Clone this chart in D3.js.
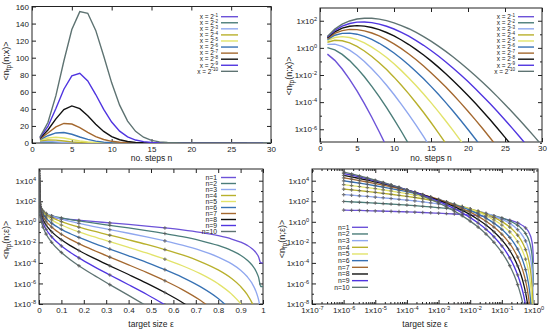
<!DOCTYPE html>
<html>
<head>
<meta charset="utf-8">
<script src="https://cdn.jsdelivr.net/npm/d3@7"></script>
<style>
  body { margin: 0; background: #fff; }
  svg { display: block; font-family: "Liberation Sans", Arial, Helvetica, sans-serif; }
</style>
</head>
<body>
<svg id="chart" width="550" height="330"></svg>
<script>
// ---- data ----
const nSteps = [1, 2, 3, 4, 5, 6, 7, 8, 9, 10, 11, 12, 13, 14, 15, 16, 17, 18, 19, 20, 21, 22, 23, 24, 25, 26, 27, 28, 29, 30];
const xExponents = [1, 2, 3, 4, 5, 6, 7, 8, 9, 10];
const nLabels = [1, 2, 3, 4, 5, 6, 7, 8, 9, 10];

// <n_fp(n;x)> for x = 2^-1 ... 2^-10, n = 1, 2, ...
const nfpX1 = [0.347, 0.120, 0.0278, 0.00481, 6.67e-4, 7.70e-5, 7.63e-6, 6.61e-7, 5.09e-8, 3.5e-9];
const nfpX2 = [1.04, 0.721, 0.333, 0.115, 0.0320, 0.00739, 0.00146, 2.54e-4, 3.91e-5, 5.42e-6, 6.83e-7, 7.89e-8, 8.4e-9];
const nfpX3 = [1.82, 1.89, 1.31, 0.682, 0.284, 0.0983, 0.0292, 0.00759, 0.00175, 3.65e-4, 6.89e-5, 1.19e-5, 1.91e-6, 2.84e-7, 3.93e-8, 5.1e-9];
const nfpX4 = [2.60, 3.60, 3.33, 2.31, 1.28, 0.592, 0.234, 0.0812, 0.0250, 0.00694, 0.00175, 4.04e-4, 8.62e-5, 1.71e-5, 3.15e-6, 5.47e-7, 8.91e-8, 1.37e-8];
const nfpX5 = [3.36, 5.82, 6.72, 5.82, 4.04, 2.33, 1.15, 0.500, 0.193, 0.0667, 0.0210, 0.00607, 0.00162, 4.01e-4, 9.26e-5, 2.01e-5, 4.09e-6, 7.87e-7, 1.44e-7, 2.49e-8];
const nfpX6 = [4.09, 8.51, 11.8, 12.3, 10.2, 7.07, 4.20, 2.19, 1.01, 0.420, 0.159, 0.0550, 0.0176, 0.00523, 0.00145, 3.77e-4, 9.22e-5, 2.13e-5, 4.66e-6, 9.70e-7, 1.92e-7, 3.63e-8, 6.6e-9];
const nfpX7 = [4.81, 11.7, 18.9, 22.9, 22.2, 18.0, 12.5, 7.56, 4.08, 1.98, 0.872, 0.353, 0.132, 0.0456, 0.0148, 0.00447, 0.00128, 3.44e-4, 8.79e-5, 2.13e-5, 4.93e-6, 1.09e-6, 2.29e-7, 4.63e-8, 9.0e-9];
const nfpX8 = [5.52, 15.3, 28.3, 39.2, 43.5, 40.2, 31.9, 22.1, 13.6, 7.55, 3.80, 1.76, 0.750, 0.297, 0.110, 0.0381, 0.0124, 0.00382, 0.00112, 3.09e-4, 8.17e-5, 2.06e-5, 4.97e-6, 1.15e-6, 2.54e-7, 5.43e-8, 1.11e-8];
const nfpX9 = [6.23, 19.4, 40.4, 63.0, 78.6, 81.7, 72.8, 56.8, 39.4, 24.6, 13.9, 7.24, 3.47, 1.55, 0.644, 0.251, 0.0921, 0.0319, 0.0105, 0.00327, 9.71e-4, 2.75e-4, 7.47e-5, 1.94e-5, 4.84e-6, 1.16e-6, 2.69e-7, 5.98e-8, 1.29e-8];
const nfpX10 = [6.93, 24.0, 55.5, 96.1, 133, 154, 152, 132, 102, 70.5, 44.4, 25.7, 13.7, 6.77, 3.13, 1.36, 0.553, 0.213, 0.0777, 0.0269, 0.00888, 0.00280, 8.44e-4, 2.44e-4, 6.76e-5, 1.80e-5, 4.62e-6, 1.14e-6, 2.74e-7, 6.32e-8];

// target sizes eps and <n_fp(n;eps)> for n = 1 ... 10
const epsGrid = [1e-6, 1.78e-6, 3.16e-6, 5.62e-6, 1e-5, 1.78e-5, 3.16e-5, 5.62e-5, 1e-4, 1.78e-4, 3.16e-4, 5.62e-4,
  1e-3, 1.78e-3, 3.16e-3, 5.62e-3, 0.01, 0.0178, 0.0316, 0.0562, 0.1, 0.14, 0.178, 0.24, 0.316, 0.4, 0.48, 0.562,
  0.64, 0.72, 0.8, 0.86, 0.9, 0.93, 0.95, 0.97, 0.98, 0.99, 1];
const markedEps = [1e-6, 1.78e-6, 3.16e-6, 5.62e-6, 1e-5, 1.78e-5, 3.16e-5, 5.62e-5, 1e-4, 1.78e-4, 3.16e-4, 5.62e-4,
  1e-3, 1.78e-3, 3.16e-3, 5.62e-3, 0.01, 0.0178, 0.0316, 0.0562, 0.1, 0.178, 0.316, 0.562];

const nfpN1 = [13.8, 13.2, 12.7, 12.1, 11.5, 10.9, 10.4, 9.79, 9.21, 8.63, 8.06, 7.48, 6.90, 6.32, 5.74, 5.15, 4.56, 3.96, 3.34, 2.72, 2.07,
  1.69, 1.42, 1.08, 0.787, 0.550, 0.382, 0.252, 0.161, 0.0920, 0.0446, 0.0211, 0.0105, 0.00508, 0.00256, 9.14e-4, 4.04e-4, 1.01e-4, 1.01e-4];
const nfpN2 = [95.4, 87.6, 80.2, 73.1, 66.3, 59.8, 53.7, 47.9, 42.4, 37.3, 32.5, 28.0, 23.8, 20.0, 16.5, 13.3, 10.5, 7.97, 5.78, 3.91, 2.39,
  1.66, 1.23, 0.774, 0.453, 0.252, 0.140, 0.0725, 0.0359, 0.0151, 0.00498, 0.00159, 5.55e-4, 1.84e-4, 6.58e-5, 1.39e-5, 4.08e-6, 5.05e-7, 5.05e-7];
const nfpN3 = [439, 387, 339, 294, 254, 218, 185, 156, 130, 107, 87.2, 69.8, 54.9, 42.2, 31.7, 23.0, 16.1, 10.7, 6.65, 3.75, 1.83,
  1.09, 0.706, 0.368, 0.174, 0.0769, 0.0343, 0.0139, 0.00533, 0.00165, 3.70e-4, 8.01e-5, 1.95e-5, 4.46e-6, 1.12e-6, 1.41e-7, 2.75e-8, 1.69e-9, null];
const nfpN4 = [1518, 1280, 1072, 890, 732, 596, 480, 382, 300, 232, 176, 131, 94.8, 66.9, 45.6, 29.9, 18.6, 10.8, 5.74, 2.70, 1.05,
  0.535, 0.305, 0.131, 0.0501, 0.0176, 0.00629, 0.00200, 5.95e-4, 1.36e-4, 2.07e-5, 3.02e-6, 5.13e-7, 8.09e-8, 1.44e-8, 1.08e-9, null, null, null];
const nfpN5 = [4194, 3391, 2715, 2151, 1686, 1304, 995, 748, 552, 400, 283, 195, 131, 84.7, 52.5, 30.9, 17.1, 8.70, 3.97, 1.55, 0.485,
  0.211, 0.105, 0.0375, 0.0115, 0.00323, 9.23e-4, 2.31e-4, 5.31e-5, 8.93e-6, 9.22e-7, 9.10e-8, 1.08e-8, 1.17e-9, null, null, null, null, null];
const nfpN6 = [9657, 7482, 5730, 4334, 3234, 2378, 1719, 1220, 848, 576, 381, 244, 151, 89.4, 50.4, 26.7, 13.1, 5.84, 2.28, 0.745, 0.186,
  0.0690, 0.0303, 0.00892, 0.00221, 4.93e-4, 1.13e-4, 2.21e-5, 3.95e-6, 4.89e-7, 3.43e-8, 2.29e-9, null, null, null, null, null, null, null];
const nfpN7 = [19060, 14151, 10366, 7485, 5320, 3715, 2544, 1705, 1116, 710, 438, 261, 149, 80.8, 41.4, 19.8, 8.63, 3.36, 1.13, 0.306, 0.0613,
  0.0194, 0.00747, 0.00182, 3.64e-4, 6.46e-5, 1.18e-5, 1.82e-6, 2.52e-7, 2.29e-8, 1.09e-9, null, null, null, null, null, null, null, null];
const nfpN8 = [32915, 23420, 16410, 11311, 7656, 5079, 3296, 2086, 1284, 766, 441, 244, 128, 64.0, 29.8, 12.8, 4.97, 1.69, 0.486, 0.110, 0.0176,
  0.00476, 0.00161, 3.24e-4, 5.23e-5, 7.39e-6, 1.09e-6, 1.31e-7, 1.41e-8, 9.42e-10, null, null, null, null, null, null, null, null, null];
const nfpN9 = [50526, 34453, 23091, 15193, 9793, 6172, 3794, 2268, 1314, 735, 395, 203, 98.6, 45.0, 19.1, 7.37, 2.54, 0.758, 0.187, 0.0353, 0.00451,
  0.00104, 3.09e-4, 5.14e-5, 6.70e-6, 7.53e-7, 8.86e-8, 8.37e-9, null, null, null, null, null, null, null, null, null, null, null];
const nfpN10 = [69804, 45616, 29243, 18366, 11275, 6751, 3931, 2220, 1211, 635, 318, 152, 68.1, 28.5, 11.0, 3.82, 1.17, 0.305, 0.0645, 0.0101, 0.00104,
  2.05e-4, 5.34e-5, 7.34e-6, 7.71e-7, 6.90e-8, 6.50e-9, null, null, null, null, null, null, null, null, null, null, null, null];

const xTicksSteps = [0, 5, 10, 15, 20, 25, 30];
const yTicksLinear = [0, 20, 40, 60, 80, 100, 120, 140, 160];
const yTicksTopLog = [1e-6, 1e-4, 1e-2, 1e0, 1e2];
const yTicksBottomLog = [1e-8, 1e-6, 1e-4, 1e-2, 1e0, 1e2, 1e4];
const xTicksEps = [0, 0.1, 0.2, 0.3, 0.4, 0.5, 0.6, 0.7, 0.8, 0.9, 1];
const xTicksEpsLog = [1e-7, 1e-6, 1e-5, 1e-4, 1e-3, 1e-2, 1e-1, 1e0];

const seriesColors = ['#6c52d8', '#4b7d79', '#8fa7ef', '#b8b02c', '#e2e36a', '#3771b3', '#a4682f', '#111111', '#5035e0', '#5e7372'];

// ---- drawing ----
const svg = d3.select('#chart');
const TEXT = '#222';

const byX = [nfpX1, nfpX2, nfpX3, nfpX4, nfpX5, nfpX6, nfpX7, nfpX8, nfpX9, nfpX10]
  .map(vals => vals.map((v, i) => ({ n: nSteps[i], v })));
const byN = [nfpN1, nfpN2, nfpN3, nfpN4, nfpN5, nfpN6, nfpN7, nfpN8, nfpN9, nfpN10]
  .map(vals => vals.map((v, i) => ({ e: epsGrid[i], v })));

const supLabel = (sel, exp) => {
  sel.text(null);
  sel.append('tspan').text('1x10');
  sel.append('tspan').attr('dy', '-0.5em').attr('font-size', '5.6px').text(exp);
};

const makePanel = (id, box, xScale, yScale, opts) => {
  const g = svg.append('g');
  g.append('clipPath').attr('id', 'clip-' + id)
    .append('rect')
    .attr('x', box.x0).attr('y', box.y0)
    .attr('width', box.x1 - box.x0).attr('height', box.y1 - box.y0);

  const axisStyle = sel => sel.attr('font-size', 8).attr('font-family', null).attr('color', TEXT)
    .call(s => s.select('.domain').remove());

  // bottom + top ticks
  g.append('g').attr('transform', `translate(0,${box.y1})`)
    .call(d3.axisBottom(xScale).tickValues(opts.xTicks).tickSize(-4).tickPadding(3).tickFormat(opts.xFormat))
    .call(axisStyle)
    .call(s => { if (opts.xSup) s.selectAll('.tick text').each(function (d) { supLabel(d3.select(this), Math.round(Math.log10(d))); }); });
  g.append('g').attr('transform', `translate(0,${box.y0})`)
    .call(d3.axisTop(xScale).tickValues(opts.xTicks).tickSize(-4).tickFormat(() => ''))
    .call(axisStyle);
  if (opts.xMinor) {
    g.append('g').attr('transform', `translate(0,${box.y1})`)
      .call(d3.axisBottom(xScale).tickValues(opts.xMinor).tickSize(-2).tickFormat(() => '')).call(axisStyle);
    g.append('g').attr('transform', `translate(0,${box.y0})`)
      .call(d3.axisTop(xScale).tickValues(opts.xMinor).tickSize(-2).tickFormat(() => '')).call(axisStyle);
  }

  // left + right ticks
  g.append('g').attr('transform', `translate(${box.x0},0)`)
    .call(d3.axisLeft(yScale).tickValues(opts.yTicks).tickSize(-4).tickPadding(3).tickFormat(opts.yFormat))
    .call(axisStyle)
    .call(s => { if (opts.ySup) s.selectAll('.tick text').each(function (d) { supLabel(d3.select(this), Math.round(Math.log10(d))); }); });
  g.append('g').attr('transform', `translate(${box.x1},0)`)
    .call(d3.axisRight(yScale).tickValues(opts.yTicks).tickSize(-4).tickFormat(() => ''))
    .call(axisStyle);
  if (opts.yMinor) {
    g.append('g').attr('transform', `translate(${box.x0},0)`)
      .call(d3.axisLeft(yScale).tickValues(opts.yMinor).tickSize(-2).tickFormat(() => '')).call(axisStyle);
    g.append('g').attr('transform', `translate(${box.x1},0)`)
      .call(d3.axisRight(yScale).tickValues(opts.yMinor).tickSize(-2).tickFormat(() => '')).call(axisStyle);
  }

  g.append('rect')
    .attr('x', box.x0).attr('y', box.y0)
    .attr('width', box.x1 - box.x0).attr('height', box.y1 - box.y0)
    .attr('fill', 'none').attr('stroke', '#222').attr('stroke-width', 1);

  // axis titles
  g.append('text')
    .attr('x', (box.x0 + box.x1) / 2).attr('y', opts.xTitleY)
    .attr('text-anchor', 'middle').attr('dy', '0.35em')
    .attr('font-size', 8.5).attr('fill', TEXT)
    .text(opts.xTitle);

  const yt = g.append('text')
    .attr('transform', `translate(${opts.yTitlePos[0]},${opts.yTitlePos[1]}) rotate(-90)`)
    .attr('text-anchor', 'middle').attr('dy', '0.35em')
    .attr('font-size', 9).attr('fill', TEXT);
  yt.append('tspan').text('<n');
  yt.append('tspan').attr('font-size', 6.3).attr('dy', '0.3em').text('fp');
  yt.append('tspan').attr('dy', '-0.2em').text(`(n;${opts.yVar})>`);

  return g.append('g').attr('clip-path', `url(#clip-${id})`);
};

const addLegend = (entries, pos) => {
  const lg = svg.append('g');
  entries.forEach((e, i) => {
    const y = pos.y + i * pos.dy;
    const t = lg.append('text')
      .attr('x', pos.textX).attr('y', y).attr('dy', '0.35em')
      .attr('text-anchor', 'end').attr('font-size', pos.fontSize).attr('fill', TEXT);
    if (e.sup != null) {
      t.append('tspan').text(e.text);
      t.append('tspan').attr('dy', '-0.5em').attr('font-size', pos.fontSize * 0.7).text(e.sup);
    } else {
      t.text(e.text);
    }
    lg.append('line')
      .attr('x1', pos.lineX0).attr('x2', pos.lineX1).attr('y1', y).attr('y2', y)
      .attr('stroke', seriesColors[i]).attr('stroke-width', 1.4);
  });
};

// -- top-left: linear n vs <n_fp>
{
  const box = { x0: 32, x1: 271, y0: 6.5, y1: 143 };
  const x = d3.scaleLinear().domain([0, 30]).range([box.x0, box.x1]);
  const y = d3.scaleLinear().domain([0, 160]).range([box.y1, box.y0]);
  const plot = makePanel('tl', box, x, y, {
    xTicks: xTicksSteps, xFormat: d3.format('d'),
    yTicks: yTicksLinear, yFormat: d3.format('d'),
    xTitle: 'no. steps n', xTitleY: 158.5, yTitlePos: [6, 61], yVar: 'x'
  });
  const line = d3.line().x(d => x(d.n)).y(d => y(d.v));
  byX.forEach((s, i) => {
    plot.append('path').datum(s)
      .attr('fill', 'none').attr('stroke', seriesColors[i]).attr('stroke-width', 1.4)
      .attr('d', line);
  });
  addLegend(xExponents.map(k => ({ text: 'x = 2', sup: '-' + k })),
    { textX: 218, lineX0: 221, lineX1: 238, y: 16.7, dy: 6.07, fontSize: 6.5 });
}

// -- top-right: log y
{
  const box = { x0: 320, x1: 542, y0: 8, y1: 142 };
  const x = d3.scaleLinear().domain([0, 30]).range([box.x0, box.x1]);
  const y = d3.scaleLog().domain([1.15e-7, 870]).range([box.y1, box.y0]);
  const plot = makePanel('tr', box, x, y, {
    xTicks: xTicksSteps, xFormat: d3.format('d'),
    yTicks: yTicksTopLog, ySup: true, yMinor: [1e-7, 1e-5, 1e-3, 1e-1, 1e1],
    xTitle: 'no. steps n', xTitleY: 158.5, yTitlePos: [289, 76], yVar: 'x'
  });
  const line = d3.line().x(d => x(d.n)).y(d => y(d.v));
  byX.forEach((s, i) => {
    plot.append('path').datum(s)
      .attr('fill', 'none').attr('stroke', seriesColors[i]).attr('stroke-width', 1.4)
      .attr('d', line);
  });
  addLegend(xExponents.map(k => ({ text: 'x = 2', sup: '-' + k })),
    { textX: 515, lineX0: 518, lineX1: 534, y: 16.7, dy: 6.07, fontSize: 6.5 });
}

const drawEpsSeries = (plot, x, y) => {
  const line = d3.line()
    .defined(d => d.v != null && d.v > 0)
    .curve(d3.curveMonotoneX)
    .x(d => x(d.e)).y(d => y(d.v));
  const cross = d3.symbol().type(d3.symbolCross).size(7);
  byN.forEach((s, i) => {
    plot.append('path').datum(s)
      .attr('fill', 'none').attr('stroke', seriesColors[i]).attr('stroke-width', 1.3)
      .attr('d', line);
    plot.append('g').selectAll('path')
      .data(s.filter(d => d.v != null && markedEps.includes(d.e)))
      .join('path')
      .attr('transform', d => `translate(${x(d.e)},${y(d.v)})`)
      .attr('d', cross)
      .attr('fill', '#555').attr('opacity', 0.75);
  });
};

// -- bottom-left: linear eps
{
  const box = { x0: 39, x1: 263, y0: 169, y1: 304 };
  const x = d3.scaleLinear().domain([0, 1]).range([box.x0, box.x1]);
  const y = d3.scaleLog().domain([1e-8, 1.38e5]).range([box.y1, box.y0]);
  const plot = makePanel('bl', box, x, y, {
    xTicks: xTicksEps, xFormat: d => (d === 0 || d === 1) ? String(d) : d3.format('.1f')(d),
    yTicks: yTicksBottomLog, ySup: true, yMinor: [1e-7, 1e-5, 1e-3, 1e-1, 1e1, 1e3, 1e5],
    xTitle: 'target size ε', xTitleY: 324, yTitlePos: [6, 240], yVar: 'ε'
  });
  drawEpsSeries(plot, x, y);
  addLegend(nLabels.map(k => ({ text: 'n=' + k })),
    { textX: 217, lineX0: 221, lineX1: 236, y: 177.5, dy: 6.0, fontSize: 6.8 });
}

// -- bottom-right: log-log
{
  const box = { x0: 312, x1: 538, y0: 169, y1: 304 };
  const x = d3.scaleLog().domain([1e-7, 1.39]).range([box.x0, box.x1]);
  const y = d3.scaleLog().domain([1e-8, 1.38e5]).range([box.y1, box.y0]);
  const minorX = [];
  xTicksEpsLog.slice(0, -1).forEach(p => [2, 3, 4, 5, 6, 7, 8, 9].forEach(m => minorX.push(p * m)));
  const plot = makePanel('br', box, x, y, {
    xTicks: xTicksEpsLog, xSup: true, xMinor: minorX,
    yTicks: yTicksBottomLog, ySup: true, yMinor: [1e-7, 1e-5, 1e-3, 1e-1, 1e1, 1e3, 1e5],
    xTitle: 'target size ε', xTitleY: 324, yTitlePos: [282, 239], yVar: 'ε'
  });
  drawEpsSeries(plot, x, y);
  addLegend(nLabels.map(k => ({ text: 'n=' + k })),
    { textX: 349.5, lineX0: 352, lineX1: 368, y: 227.3, dy: 6.67, fontSize: 6.8 });
}
</script>
</body>
</html>
